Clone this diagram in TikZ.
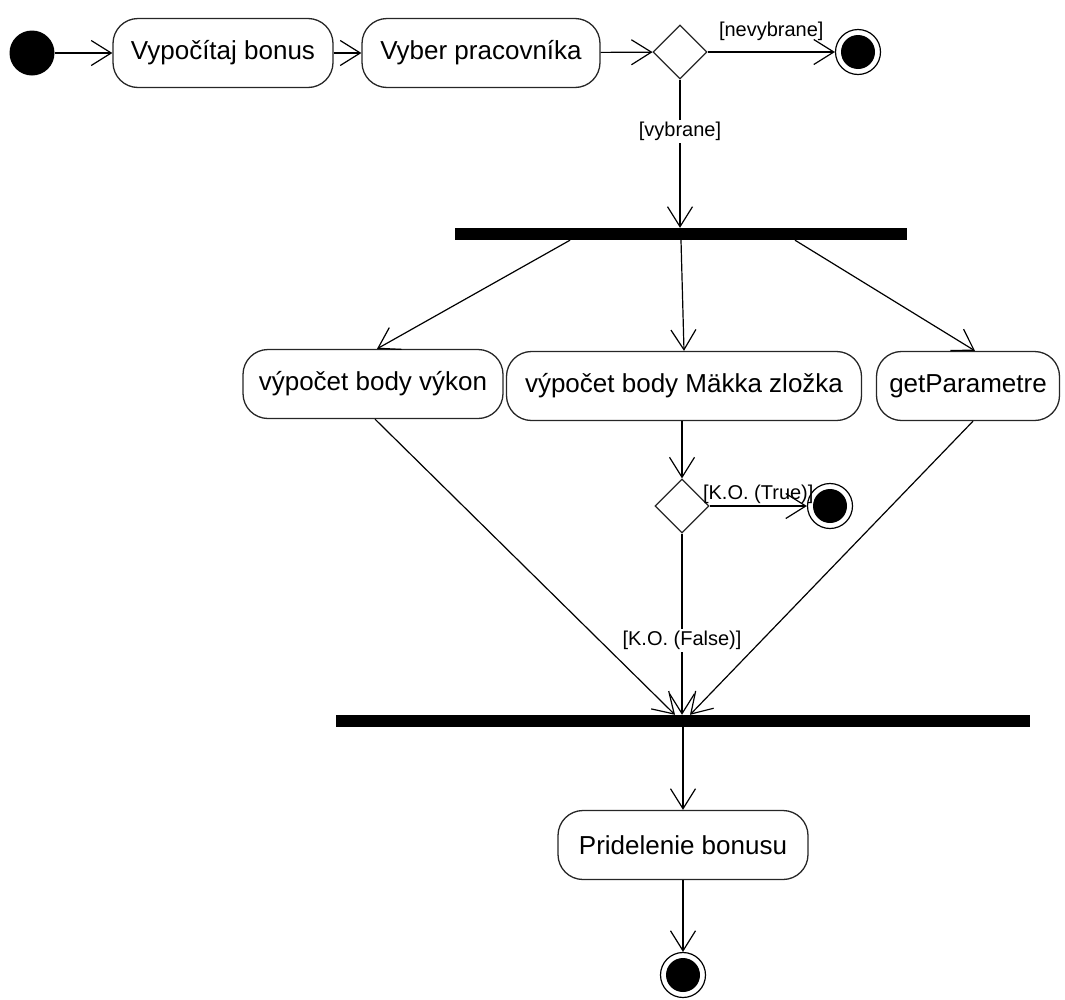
\documentclass[tikz,border=0pt]{standalone}
\usepackage{fontspec}
\setmainfont{Liberation Sans}
\usetikzlibrary{shapes.geometric,arrows.meta}

\tikzset{
  activity/.style={draw=black!85, line width=1.3pt, rounded corners=25pt, minimum height=69pt, inner sep=0pt, font=\fontsize{26}{30}\selectfont},
  bar/.style={fill=black, inner sep=0pt, minimum height=12pt},
  decision/.style={diamond, draw=black!85, line width=1.2pt, inner sep=0pt, minimum width=54pt, minimum height=54pt},
  flow/.style={line width=1.2pt, -{Straight Barb[length=20pt,width=25pt,line width=1.2pt]}},
  guard/.style={font=\fontsize{20}{24}\selectfont, inner sep=2pt},
  startnode/.style={circle, fill=black, minimum size=45pt, inner sep=0pt},
  endnode/.style={circle, draw, line width=1.2pt, minimum size=45pt, inner sep=0pt, path picture={\fill (path picture bounding box.center) circle (17pt);}}
}

\begin{document}
\begin{tikzpicture}[x=1pt, y=-1pt]
\useasboundingbox (0,0) rectangle (1065,999);

% top row
\node[startnode] (start) at (32,53) {};
\node[activity, minimum width=220pt] (vypocet) at (223,53) {Vypočítaj bonus};
\node[activity, minimum width=238pt] (vyber) at (481,53) {Vyber pracovníka};
\node[decision] (d1) at (680,52) {};
\node[endnode] (end1) at (858,52) {};

% fork
\node[bar, minimum width=452pt] (fork) at (681,234) {};

% parallel activities
\node[activity, minimum width=260pt] (vykon) at (373,384) {výpočet body výkon};
\node[activity, minimum width=355pt] (makka) at (684,386) {výpočet body Mäkka zložka};
\node[activity, minimum width=183pt] (getparam) at (968,386) {getParametre};

\node[decision] (d2) at (682,506) {};
\node[endnode] (end2) at (830,506) {};

% join
\node[bar, minimum width=694pt] (join) at (683,721) {};

\node[activity, minimum width=250pt] (pridel) at (683,845) {Pridelenie bonusu};
\node[endnode] (end3) at (683,975) {};

\draw[flow] (start) -- (vypocet);
\draw[flow] (vypocet) -- (vyber);
\draw[flow] (vyber) -- (d1);
\draw[flow] (d1.east) -- node[guard, above=9pt] {[nevybrane]} (end1);
\draw[flow] (d1.south) -- node[guard, fill=white, pos=0.35] {[vybrane]} (fork.north -| d1.south);

\draw[flow] ([xshift=-111pt]fork.south) -- ([xshift=4pt]vykon.north);
\draw[flow] (fork.south) -- (makka.north);
\draw[flow] ([xshift=114pt]fork.south) -- ([xshift=7pt]getparam.north);

\draw[flow] (makka.south -| d2.north) -- (d2.north);
\draw[flow] (d2.east) -- node[guard, above=0pt] {[K.O. (True)]} (end2);
\draw[flow] (d2.south) -- node[guard, fill=white, pos=0.59] {[K.O. (False)]} (join.north -| d2.south);
\draw[flow] ([xshift=2pt]vykon.south) -- ([xshift=-8pt]join.north);
\draw[flow] ([xshift=5pt]getparam.south) -- ([xshift=7pt]join.north);

\draw[flow] (join.south) -- (pridel.north);
\draw[flow] (pridel.south) -- (end3);

\end{tikzpicture}
\end{document}
